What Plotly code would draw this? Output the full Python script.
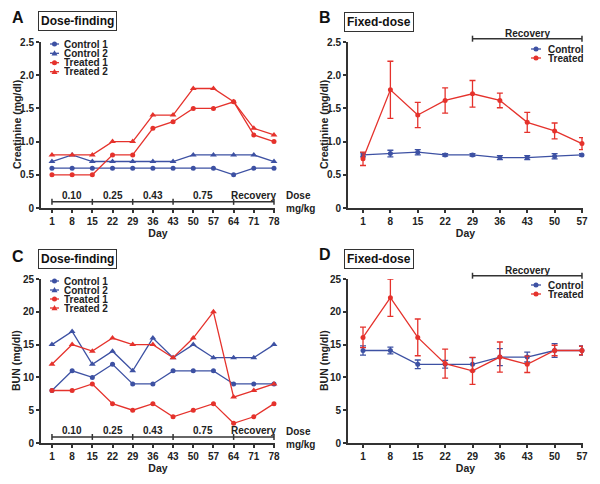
import plotly.graph_objects as go

# Days
days_dose_finding = [1, 8, 15, 22, 29, 36, 43, 50, 57, 64, 71, 78]
days_fixed_dose = [1, 8, 15, 22, 29, 36, 43, 50, 57]

# A - creatinine, dose-finding (mg/dl)
creat_control1 = [0.6, 0.6, 0.6, 0.6, 0.6, 0.6, 0.6, 0.6, 0.6, 0.5, 0.6, 0.6]
creat_control2 = [0.7, 0.8, 0.7, 0.7, 0.7, 0.7, 0.7, 0.8, 0.8, 0.8, 0.8, 0.7]
creat_treated1 = [0.5, 0.5, 0.5, 0.8, 0.8, 1.2, 1.3, 1.5, 1.5, 1.6, 1.1, 1.0]
creat_treated2 = [0.8, 0.8, 0.8, 1.0, 1.0, 1.4, 1.4, 1.8, 1.8, 1.6, 1.2, 1.1]

# B - creatinine, fixed-dose (mean and error)
creat_fd_control = [0.80, 0.82, 0.84, 0.80, 0.80, 0.76, 0.76, 0.78, 0.80]
creat_fd_control_err = [0.03, 0.05, 0.04, 0.02, 0.02, 0.03, 0.03, 0.04, 0.02]
creat_fd_treated = [0.74, 1.78, 1.40, 1.62, 1.72, 1.62, 1.29, 1.16, 0.97]
creat_fd_treated_err = [0.10, 0.43, 0.19, 0.19, 0.20, 0.11, 0.15, 0.12, 0.09]

# C - BUN, dose-finding (mg/dl)
bun_control1 = [8, 11, 10, 12, 9, 9, 11, 11, 11, 9, 9, 9]
bun_control2 = [15, 17, 12, 14, 11, 16, 13, 15, 13, 13, 13, 15]
bun_treated1 = [8, 8, 9, 6, 5, 6, 4, 5, 6, 3, 4, 6]
bun_treated2 = [12, 15, 14, 16, 15, 15, 13, 16, 20, 7, 8, 9]

# D - BUN, fixed-dose (mean and error)
bun_fd_control = [14.1, 14.1, 12.0, 12.0, 12.0, 13.1, 13.1, 14.1, 14.1]
bun_fd_control_err = [0.7, 0.5, 0.65, 0.6, 1.0, 1.3, 0.75, 1.05, 0.7]
bun_fd_treated = [16.1, 22.15, 16.1, 12.1, 11.0, 13.1, 12.0, 14.1, 14.1]
bun_fd_treated_err = [1.55, 2.85, 2.8, 2.2, 2.05, 2.3, 1.25, 0.8, 0.65]

# dose schedule (dose-finding) and recovery period (fixed-dose)
dose_days = [1, 15, 29, 43, 64, 78]
dose_labels = ["0.10", "0.25", "0.43", "0.75", "Recovery"]
recovery_days = [29, 57]

BLUE = "#3d51a3"
RED = "#e5322c"
AX = "#333333"
FONT = "Liberation Sans, Arial, sans-serif"
W, H = 600, 484


def px(x, y):
    return x / W, 1 - y / H


fig = go.Figure()


def add_line(x, y, name, color, symbol, xa, ya, err=None):
    size = 6 if symbol == "triangle-up" else 5
    fig.add_trace(go.Scatter(
        x=x, y=y, name=name, mode="lines+markers", xaxis=xa, yaxis=ya,
        line=dict(color=color, width=1.3),
        marker=dict(color=color, symbol=symbol, size=size),
        error_y=None if err is None else dict(type="data", array=err, color=color,
                                               thickness=1.3, width=3),
        showlegend=False, cliponaxis=False))


add_line(days_dose_finding, creat_control1, "Control 1", BLUE, "circle", "x", "y")
add_line(days_dose_finding, creat_control2, "Control 2", BLUE, "triangle-up", "x", "y")
add_line(days_dose_finding, creat_treated1, "Treated 1", RED, "circle", "x", "y")
add_line(days_dose_finding, creat_treated2, "Treated 2", RED, "triangle-up", "x", "y")

add_line(days_fixed_dose, creat_fd_control, "Control", BLUE, "circle", "x2", "y2", creat_fd_control_err)
add_line(days_fixed_dose, creat_fd_treated, "Treated", RED, "circle", "x2", "y2", creat_fd_treated_err)

add_line(days_dose_finding, bun_control1, "Control 1", BLUE, "circle", "x3", "y3")
add_line(days_dose_finding, bun_control2, "Control 2", BLUE, "triangle-up", "x3", "y3")
add_line(days_dose_finding, bun_treated1, "Treated 1", RED, "circle", "x3", "y3")
add_line(days_dose_finding, bun_treated2, "Treated 2", RED, "triangle-up", "x3", "y3")

add_line(days_fixed_dose, bun_fd_control, "Control", BLUE, "circle", "x4", "y4", bun_fd_control_err)
add_line(days_fixed_dose, bun_fd_treated, "Treated", RED, "circle", "x4", "y4", bun_fd_treated_err)

tick_font = dict(family=FONT, size=10, color="#222", weight="bold")
title_font = dict(family=FONT, size=10.5, color="#222", weight="bold")


def xaxis(domain, anchor, days, rng):
    return dict(domain=domain, anchor=anchor, range=rng, tickvals=days,
                ticktext=[str(d) for d in days], showline=True, linecolor=AX,
                linewidth=2, ticks="outside", ticklen=3, tickwidth=1.5, tickcolor=AX,
                showgrid=False, zeroline=False, tickfont=tick_font, automargin=False,
                title=dict(text="Day", font=title_font, standoff=2))


def yaxis(domain, anchor, vals, labels, rng):
    return dict(domain=domain, anchor=anchor, range=rng, tickvals=vals, ticktext=labels,
                showline=True, linecolor=AX, linewidth=2, ticks="outside", ticklen=3,
                tickwidth=1.5, tickcolor=AX, showgrid=False, zeroline=False, automargin=False,
                tickfont=tick_font)


xl = [41 / W, 275 / W]
xr = [348 / W, 583 / W]
yt = [1 - 208 / H, 1 - 42 / H]
yb = [1 - 443 / H, 1 - 279 / H]

creat_ticks = [0, 0.5, 1.0, 1.5, 2.0, 2.5]
creat_ticktext = ["0", "0.5", "1.0", "1.5", "2.0", "2.5"]
bun_ticks = [0, 5, 10, 15, 20, 25]

fig.update_layout(
    xaxis=xaxis(xl, "y", days_dose_finding, [-2.8, 78.35]),
    yaxis=yaxis(yt, "x", creat_ticks, creat_ticktext, [0, 2.5]),
    xaxis2=xaxis(xr, "y2", days_fixed_dose, [-2.84, 57.26]),
    yaxis2=yaxis(yt, "x2", creat_ticks, creat_ticktext, [0, 2.5]),
    xaxis3=xaxis(xl, "y3", days_dose_finding, [-2.8, 78.35]),
    yaxis3=yaxis(yb, "x3", bun_ticks, [str(v) for v in bun_ticks], [0, 25]),
    xaxis4=xaxis(xr, "y4", days_fixed_dose, [-2.84, 57.26]),
    yaxis4=yaxis(yb, "x4", bun_ticks, [str(v) for v in bun_ticks], [0, 25]),
)

shapes = []
annotations = []
text_font = dict(family=FONT, size=10, color="#222", weight="bold")
legend_font = dict(family=FONT, size=10, color="#222", weight="bold")

# y axis titles (placed by hand, closer to the tick labels than plotly puts them)
for lab, cx, cy in [("Creatinine (mg/dl)", 17, 125), ("Creatinine (mg/dl)", 324, 125),
                    ("BUN (mg/dl)", 16, 361), ("BUN (mg/dl)", 324, 361)]:
    x, y = px(cx, cy)
    annotations.append(dict(xref="paper", yref="paper", x=x, y=y, xanchor="center",
                            yanchor="middle", text=lab, textangle=-90, showarrow=False,
                            font=title_font))

# dose bars inside dose-finding panels
for xa, ya, in [("x", "y"), ("x3", "y3")]:
    yb0 = 0.037
    shapes.append(dict(type="line", xref=xa, yref=ya + " domain", x0=dose_days[0],
                       x1=dose_days[-1], y0=yb0, y1=yb0, line=dict(color=AX, width=1.5)))
    for d in dose_days:
        shapes.append(dict(type="line", xref=xa, yref=ya + " domain", x0=d, x1=d,
                           y0=yb0 - 0.018, y1=yb0 + 0.018, line=dict(color=AX, width=1.5)))
    for i, lab in enumerate(dose_labels):
        annotations.append(dict(xref=xa, yref=ya + " domain", x=(dose_days[i] + dose_days[i + 1]) / 2,
                                y=0.028, xanchor="center", yanchor="bottom", text=lab,
                                showarrow=False, font=text_font))

# recovery brackets above fixed-dose panels
for xa, ya in [("x2", "y2"), ("x4", "y4")]:
    yb0 = 1.02
    shapes.append(dict(type="line", xref=xa, yref=ya + " domain", x0=recovery_days[0],
                       x1=recovery_days[1], y0=yb0, y1=yb0, line=dict(color=AX, width=1.5)))
    for d in recovery_days:
        shapes.append(dict(type="line", xref=xa, yref=ya + " domain", x0=d, x1=d,
                           y0=yb0 - 0.018, y1=yb0 + 0.018, line=dict(color=AX, width=1.5)))
    annotations.append(dict(xref=xa, yref=ya + " domain", x=sum(recovery_days) / 2,
                            y=1.057, xanchor="center", yanchor="middle", text="Recovery",
                            showarrow=False, font=text_font, borderpad=0, height=10))

# "Dose mg/kg" labels
for cy in [202, 438]:
    x, y = px(284, cy)
    annotations.append(dict(xref="paper", yref="paper", x=x, y=y, xanchor="left",
                            yanchor="middle", align="left", text="Dose<br>mg/kg",
                            showarrow=False, font=text_font))

# panel letters
for lab, cx, cy in [("A", 18, 17), ("B", 325, 17), ("C", 18, 256), ("D", 325, 255)]:
    x, y = px(cx, cy)
    annotations.append(dict(xref="paper", yref="paper", x=x, y=y, xanchor="center",
                            yanchor="middle", text=lab, showarrow=False,
                            font=dict(family=FONT, size=16, color="#111", weight="bold")))

# boxed titles
for lab, cx, cy in [("Dose-finding", 77, 21), ("Fixed-dose", 379, 22),
                    ("Dose-finding", 77, 259), ("Fixed-dose", 379, 259)]:
    x, y = px(cx, cy)
    annotations.append(dict(xref="paper", yref="paper", x=x, y=y, xanchor="center",
                            yanchor="middle", text=lab, showarrow=False,
                            bordercolor=AX, borderwidth=1, borderpad=2,
                            font=dict(family=FONT, size=12, color="#111", weight="bold")))


# hand-drawn legends
def legend_entry(x0, x1, cy, color, symbol, label, tx):
    a, b = px(x0, cy)
    c, _ = px(x1, cy)
    shapes.append(dict(type="line", xref="paper", yref="paper", x0=a, x1=c, y0=b, y1=b,
                       line=dict(color=color, width=1.3)))
    mx = (x0 + x1) / 2
    if symbol == "circle":
        p0 = px(mx - 2.5, cy - 2.5)
        p1 = px(mx + 2.5, cy + 2.5)
        shapes.append(dict(type="circle", xref="paper", yref="paper", x0=p0[0], x1=p1[0],
                           y0=p0[1], y1=p1[1], fillcolor=color, line=dict(color=color, width=0)))
    else:
        pts = [px(mx, cy - 3), px(mx - 3, cy + 2.2), px(mx + 3, cy + 2.2)]
        path = "M {} {} L {} {} L {} {} Z".format(pts[0][0], pts[0][1], pts[1][0], pts[1][1],
                                                 pts[2][0], pts[2][1])
        shapes.append(dict(type="path", xref="paper", yref="paper", path=path,
                           fillcolor=color, line=dict(color=color, width=0)))
    x, y = px(tx, cy)
    annotations.append(dict(xref="paper", yref="paper", x=x, y=y, xanchor="left",
                            yanchor="middle", text=label, showarrow=False, font=legend_font,
                            borderpad=0, height=9))


df_entries = [("Control 1", BLUE, "circle"), ("Control 2", BLUE, "triangle"),
              ("Treated 1", RED, "circle"), ("Treated 2", RED, "triangle")]
for rows in [[44, 53.3, 62.7, 71.7], [281, 290, 299, 308]]:
    for (lab, col, sym), cy in zip(df_entries, rows):
        legend_entry(50, 59, cy, col, sym, lab, 63)

fd_entries = [("Control", BLUE, "circle"), ("Treated", RED, "circle")]
for rows in [[49, 58], [285, 294]]:
    for (lab, col, sym), cy in zip(fd_entries, rows):
        legend_entry(531, 541, cy, col, sym, lab, 547)

fig.update_layout(
    width=W, height=H, margin=dict(l=0, r=0, t=0, b=0),
    paper_bgcolor="white", plot_bgcolor="white",
    shapes=shapes, annotations=annotations, showlegend=False,
    font=dict(family=FONT, color="#222"),
)

# the page body has a default 8px margin; drop it so the figure sits at the window corner
fig.write_html("out.html", config={"displayModeBar": False},
               post_script="document.body.style.margin = '0px';")
